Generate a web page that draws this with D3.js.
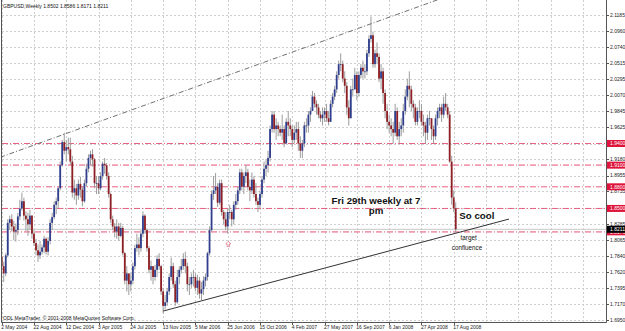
<!DOCTYPE html>
<html>
<head>
<meta charset="utf-8">
<script src="https://cdn.jsdelivr.net/npm/d3@7"></script>
<style>
  body { margin: 0; background: #fff; }
  svg { display: block; font-family: "Liberation Sans", Arial, sans-serif; }
</style>
</head>
<body>
<script>
// GBPUSD weekly, week of 2 May 2004 .. week of 24 Aug 2008
var opens = [1.7830,1.7700,1.7600,1.7850,1.8300,1.8350,1.8250,1.8180,1.8200,1.8390,1.8500,1.8600,1.8400,1.8350,1.8280,1.8400,1.8150,1.8020,1.7920,1.7850,
  1.7900,1.7960,1.8080,1.7900,1.8050,1.8300,1.8380,1.8550,1.8600,1.8780,1.9100,1.9420,1.9300,1.9350,1.9320,1.9150,1.8720,1.8780,1.8680,1.8840,
  1.8760,1.8600,1.8850,1.9050,1.9200,1.9250,1.9180,1.8850,1.8850,1.8780,1.8950,1.9120,1.9100,1.8950,1.8700,1.8350,1.8250,1.8180,1.8250,1.8120,
  1.8230,1.7880,1.7500,1.7600,1.7450,1.7500,1.7700,1.7950,1.8000,1.7950,1.8150,1.8400,1.8200,1.7950,1.7650,1.7700,1.7550,1.7650,1.7800,1.7700,
  1.7350,1.7150,1.7200,1.7350,1.7550,1.7700,1.7450,1.7200,1.7550,1.7650,1.7700,1.7800,1.7700,1.7450,1.7450,1.7550,1.7550,1.7400,1.7500,1.7320,
  1.7380,1.7500,1.7550,1.7880,1.8200,1.8700,1.8750,1.8800,1.8580,1.8850,1.8450,1.8350,1.8250,1.8450,1.8450,1.8350,1.8550,1.8600,1.8750,1.9000,
  1.8800,1.8950,1.9000,1.8800,1.8750,1.8900,1.8700,1.8600,1.8550,1.8700,1.8900,1.9050,1.9100,1.9200,1.9600,1.9800,1.9600,1.9650,1.9600,1.9550,
  1.9600,1.9400,1.9700,1.9650,1.9600,1.9450,1.9550,1.9600,1.9400,1.9300,1.9400,1.9650,1.9650,1.9800,1.9850,2.0050,1.9950,1.9900,1.9800,1.9750,
  1.9800,1.9850,1.9750,1.9700,1.9950,2.0050,2.0150,2.0350,2.0500,2.0500,2.0300,2.0200,1.9900,1.9750,2.0150,2.0150,2.0350,2.0100,2.0350,2.0450,
  2.0400,2.0400,2.0650,2.0850,2.0900,2.0500,2.0650,2.0600,2.0300,2.0400,2.0100,1.9850,1.9700,1.9650,1.9600,1.9550,1.9850,1.9500,1.9600,1.9650,
  1.9850,2.0050,2.0200,2.0150,1.9950,1.9900,1.9700,1.9850,1.9850,1.9700,1.9650,1.9550,1.9750,1.9750,1.9600,1.9500,1.9750,1.9850,1.9900,1.9800,
  1.9950,1.9900,1.9800,1.9150,1.8650,1.8502];
var highs = [1.7910,1.7760,1.7880,1.8350,1.8400,1.8420,1.8330,1.8290,1.8440,1.8620,1.8720,1.8650,1.8460,1.8440,1.8480,1.8410,1.8200,1.8080,1.8000,1.8050,
  1.8000,1.8120,1.8100,1.8100,1.8350,1.8440,1.8600,1.8650,1.8800,1.9150,1.9450,1.9550,1.9450,1.9480,1.9480,1.9230,1.8900,1.8840,1.8900,1.8940,
  1.8800,1.8900,1.9120,1.9250,1.9300,1.9320,1.9200,1.8950,1.8950,1.9000,1.9150,1.9200,1.9130,1.9000,1.8720,1.8400,1.8300,1.8350,1.8300,1.8300,
  1.8260,1.7900,1.7700,1.7600,1.7600,1.7750,1.8000,1.8150,1.8100,1.8200,1.8460,1.8420,1.8220,1.7980,1.7780,1.7700,1.7720,1.7850,1.7880,1.7720,
  1.7400,1.7300,1.7400,1.7600,1.7820,1.7750,1.7500,1.7650,1.7700,1.7800,1.7880,1.7900,1.7750,1.7550,1.7600,1.7650,1.7600,1.7580,1.7550,1.7480,
  1.7560,1.7600,1.7900,1.8250,1.8750,1.8950,1.8990,1.8850,1.8900,1.8900,1.8480,1.8450,1.8500,1.8550,1.8480,1.8600,1.8700,1.8800,1.9050,1.9050,
  1.9000,1.9100,1.9050,1.8900,1.9000,1.8950,1.8850,1.8650,1.8750,1.8950,1.9150,1.9180,1.9300,1.9650,1.9850,1.9850,1.9750,1.9700,1.9650,1.9800,
  1.9650,1.9750,1.9850,1.9750,1.9650,1.9650,1.9700,1.9700,1.9500,1.9450,1.9700,1.9750,1.9850,1.9900,2.0130,2.0100,2.0000,1.9950,1.9850,1.9900,
  1.9900,1.9950,1.9850,2.0000,2.0100,2.0200,2.0400,2.0550,2.0650,2.0550,2.0400,2.0250,2.0000,2.0200,2.0300,2.0450,2.0400,2.0400,2.0500,2.0550,
  2.0500,2.0700,2.0900,2.1161,2.0950,2.0700,2.0800,2.0650,2.0500,2.0450,2.0150,1.9950,1.9800,1.9750,1.9700,1.9950,1.9900,1.9700,1.9750,1.9950,
  2.0150,2.0300,2.0400,2.0200,2.0000,1.9950,1.9900,2.0000,1.9950,1.9800,1.9700,1.9800,1.9850,1.9750,1.9650,1.9800,1.9900,1.9950,1.9950,2.0050,
  2.0100,1.9950,1.9850,1.9230,1.8750,1.8586];
var lows = [1.7640,1.7480,1.7560,1.7820,1.8200,1.8180,1.8060,1.8040,1.8130,1.8340,1.8470,1.8330,1.8190,1.8120,1.8200,1.8080,1.7980,1.7850,1.7760,1.7800,
  1.7860,1.7880,1.7860,1.7850,1.8000,1.8200,1.8350,1.8420,1.8500,1.8750,1.9080,1.9250,1.9150,1.9250,1.9100,1.8650,1.8620,1.8550,1.8620,1.8650,
  1.8530,1.8580,1.8800,1.9000,1.9100,1.9080,1.8780,1.8700,1.8700,1.8750,1.8900,1.8980,1.8900,1.8650,1.8300,1.8200,1.8100,1.8080,1.8050,1.8100,
  1.7850,1.7450,1.7350,1.7300,1.7350,1.7450,1.7650,1.7900,1.7850,1.7900,1.8100,1.8150,1.7900,1.7600,1.7500,1.7450,1.7500,1.7550,1.7650,1.7300,
  1.7045,1.7100,1.7150,1.7300,1.7500,1.7400,1.7150,1.7180,1.7450,1.7600,1.7650,1.7600,1.7350,1.7300,1.7400,1.7420,1.7350,1.7300,1.7250,1.7230,
  1.7300,1.7420,1.7500,1.7850,1.8180,1.8620,1.8700,1.8520,1.8550,1.8400,1.8280,1.8200,1.8150,1.8350,1.8250,1.8280,1.8480,1.8550,1.8700,1.8750,
  1.8700,1.8850,1.8750,1.8600,1.8700,1.8650,1.8550,1.8450,1.8500,1.8650,1.8850,1.8950,1.9000,1.9150,1.9550,1.9550,1.9450,1.9500,1.9500,1.9450,
  1.9350,1.9400,1.9500,1.9500,1.9350,1.9400,1.9450,1.9300,1.9200,1.9200,1.9350,1.9550,1.9550,1.9700,1.9850,1.9900,1.9800,1.9750,1.9700,1.9650,
  1.9700,1.9700,1.9650,1.9700,1.9900,2.0000,2.0100,2.0300,2.0400,2.0250,2.0100,1.9800,1.9650,1.9750,2.0050,2.0150,2.0000,2.0050,2.0300,2.0300,
  2.0300,2.0350,2.0600,2.0800,2.0450,2.0450,2.0500,2.0250,2.0150,1.9950,1.9750,1.9600,1.9550,1.9500,1.9400,1.9500,1.9450,1.9400,1.9500,1.9550,
  1.9800,2.0000,1.9900,1.9850,1.9750,1.9650,1.9650,1.9750,1.9650,1.9500,1.9400,1.9450,1.9650,1.9450,1.9400,1.9450,1.9650,1.9750,1.9700,1.9750,
  1.9850,1.9750,1.9130,1.8550,1.8450,1.8171];
var closes = [1.7700,1.7600,1.7850,1.8300,1.8350,1.8250,1.8180,1.8200,1.8390,1.8500,1.8600,1.8400,1.8350,1.8280,1.8400,1.8150,1.8020,1.7920,1.7850,1.7900,
  1.7960,1.8080,1.7900,1.8050,1.8300,1.8380,1.8550,1.8600,1.8780,1.9100,1.9420,1.9300,1.9350,1.9320,1.9150,1.8720,1.8780,1.8680,1.8840,1.8760,
  1.8600,1.8850,1.9050,1.9200,1.9250,1.9180,1.8850,1.8850,1.8780,1.8950,1.9120,1.9100,1.8950,1.8700,1.8350,1.8250,1.8180,1.8250,1.8120,1.8230,
  1.7880,1.7500,1.7600,1.7450,1.7500,1.7700,1.7950,1.8000,1.7950,1.8150,1.8400,1.8200,1.7950,1.7650,1.7700,1.7550,1.7650,1.7800,1.7700,1.7350,
  1.7150,1.7200,1.7350,1.7550,1.7700,1.7450,1.7200,1.7550,1.7650,1.7700,1.7800,1.7700,1.7450,1.7450,1.7550,1.7550,1.7400,1.7500,1.7320,1.7380,
  1.7500,1.7550,1.7880,1.8200,1.8700,1.8750,1.8800,1.8580,1.8850,1.8450,1.8350,1.8250,1.8450,1.8450,1.8350,1.8550,1.8600,1.8750,1.9000,1.8800,
  1.8950,1.9000,1.8800,1.8750,1.8900,1.8700,1.8600,1.8550,1.8700,1.8900,1.9050,1.9100,1.9200,1.9600,1.9800,1.9600,1.9650,1.9600,1.9550,1.9600,
  1.9400,1.9700,1.9650,1.9600,1.9450,1.9550,1.9600,1.9400,1.9300,1.9400,1.9650,1.9650,1.9800,1.9850,2.0050,1.9950,1.9900,1.9800,1.9750,1.9800,
  1.9850,1.9750,1.9700,1.9950,2.0050,2.0150,2.0350,2.0500,2.0500,2.0300,2.0200,1.9900,1.9750,2.0150,2.0150,2.0350,2.0100,2.0350,2.0450,2.0400,
  2.0400,2.0650,2.0850,2.0900,2.0500,2.0650,2.0600,2.0300,2.0400,2.0100,1.9850,1.9700,1.9650,1.9600,1.9550,1.9850,1.9500,1.9600,1.9650,1.9850,
  2.0050,2.0200,2.0150,1.9950,1.9900,1.9700,1.9850,1.9850,1.9700,1.9650,1.9550,1.9750,1.9750,1.9600,1.9500,1.9750,1.9850,1.9900,1.9800,1.9950,
  1.9900,1.9800,1.9150,1.8650,1.8502,1.8211];

var dateLabels = ["2 May 2004","22 Aug 2004","12 Dec 2004","3 Apr 2005","24 Jul 2005","13 Nov 2005","5 Mar 2006",
  "25 Jun 2006","15 Oct 2006","4 Feb 2007","27 May 2007","16 Sep 2007","6 Jan 2008","27 Apr 2008","17 Aug 2008"];
var dateIdx = [0,16,32,48,64,80,96,112,128,144,160,176,192,208,224];
var gridIdx = [0,16,32,48,64,80,96,112,128,144,160,176,192,208,224,240,256,272,288];
var priceTicks = [2.1185,2.0960,2.0740,2.0515,2.0295,2.0070,1.9845,1.9625,1.9400,1.9180,1.8955,1.8735,1.8510,1.8285,1.8065,1.7840,1.7620,1.7395,1.7170,1.6950];
var levels = [1.9400, 1.9100, 1.8800, 1.8500, 1.8176];
var softLevels = [1.9100, 1.8176];
var bid = 1.8211;
// trendlines as [bar index, price] pairs
var upperTrend = [[0, 1.9217], [183, 2.1059]];
var lowerTrend = [[80, 1.7078], [251.4, 1.8353]];
var arrowMark = {i: 112.3, price: 1.8003};
var notes = [
  {text: "Fri 29th weekly at 7", i: 185.5, price: 1.8568, size: 9.7, bold: true, anchor: "middle"},
  {text: "pm", i: 185.5, price: 1.8423, size: 9.7, bold: true, anchor: "middle"},
  {text: "So cool", i: 226.8, price: 1.8347, size: 9.7, bold: true, anchor: "start"},
  {text: "target", i: 231.4, price: 1.8062, size: 6.3, bold: false, anchor: "middle"},
  {text: "confluence", i: 230.6, price: 1.7931, size: 6.3, bold: false, anchor: "middle"}
];

var W = 625, H = 331;
var pL = 2, pR = 606, pT = 0, pB = 322;

var svg = d3.select("body").append("svg").attr("width", W).attr("height", H);
svg.append("rect").attr("width", W).attr("height", H).attr("fill", "#fff");

var x = d3.scaleLinear().domain([0, 224]).range([1.7, 453.7]);
var y = d3.scaleLinear().domain([1.6950, 2.1185]).range([320.3, 14.7]);

svg.append("clipPath").attr("id", "plot")
  .append("rect").attr("x", pL).attr("y", pT).attr("width", pR - pL).attr("height", pB - pT);

var g = svg.append("g").attr("clip-path", "url(#plot)");

// grid
g.selectAll(".hg").data(priceTicks).enter().append("line")
  .attr("x1", pL).attr("x2", pR)
  .attr("y1", function(d){ return Math.round(y(d)) + 0.5; })
  .attr("y2", function(d){ return Math.round(y(d)) + 0.5; })
  .attr("stroke", "#cfcfcf").attr("stroke-dasharray", "2,2");
g.selectAll(".vg").data(gridIdx).enter().append("line")
  .attr("x1", function(d){ return Math.round(x(d)) + 0.5; })
  .attr("x2", function(d){ return Math.round(x(d)) + 0.5; })
  .attr("y1", pT).attr("y2", pB)
  .attr("stroke", "#cfcfcf").attr("stroke-dasharray", "2,2");

// bid line
g.append("line").attr("x1", pL).attr("x2", pR)
  .attr("y1", y(bid)).attr("y2", y(bid)).attr("stroke", "#c8c8c8");

// horizontal levels
g.selectAll(".lvl").data(levels).enter().append("line")
  .attr("x1", pL).attr("x2", pR)
  .attr("y1", function(d){ return y(d); }).attr("y2", function(d){ return y(d); })
  .attr("stroke", function(d){ return softLevels.indexOf(d) >= 0 ? "#ef8aa2" : "#e8476a"; })
  .attr("stroke-width", function(d){ return softLevels.indexOf(d) >= 0 ? 1.6 : 1; })
  .attr("stroke-dasharray", "6,2,1,2").attr("opacity", 0.85);

// candles
var bars = d3.range(closes.length).map(function(i){
  return {i: i, o: opens[i], h: highs[i], l: lows[i], c: closes[i]};
});
var cg = g.selectAll(".c").data(bars).enter().append("g");
cg.append("line")
  .attr("x1", function(d){ return x(d.i); }).attr("x2", function(d){ return x(d.i); })
  .attr("y1", function(d){ return y(d.h); }).attr("y2", function(d){ return y(d.l); })
  .attr("stroke", "#9c9c9c").attr("stroke-width", 1);
cg.append("rect")
  .attr("x", function(d){ return x(d.i) - 0.9; })
  .attr("width", 1.8)
  .attr("y", function(d){ return y(Math.max(d.o, d.c)); })
  .attr("height", function(d){ return Math.max(0.8, Math.abs(y(d.o) - y(d.c))); })
  .attr("fill", function(d){ return d.c >= d.o ? "#2f3f8e" : "#8e1f24"; });

// trendlines, upper is a ray to the edges
function trendY(t, i){
  var k = (t[1][1] - t[0][1]) / (t[1][0] - t[0][0]);
  return t[0][1] + (i - t[0][0]) * k;
}
var xl = x.invert(pL - 2), xr = x.invert(pR + 2);
g.append("line")
  .attr("x1", x(xl)).attr("y1", y(trendY(upperTrend, xl)))
  .attr("x2", x(xr)).attr("y2", y(trendY(upperTrend, xr)))
  .attr("stroke", "#707070").attr("stroke-dasharray", "5,2,1,2");
g.append("line")
  .attr("x1", x(lowerTrend[0][0])).attr("y1", y(lowerTrend[0][1]))
  .attr("x2", x(lowerTrend[1][0])).attr("y2", y(lowerTrend[1][1]))
  .attr("stroke", "#333");

// arrow marker
var ax = x(arrowMark.i), ay = y(arrowMark.price);
g.append("path")
  .attr("d", "M" + ax + "," + (ay - 3) + "l2.5,2.5h-1.3v2.8h-2.4v-2.8h-1.3z")
  .attr("fill", "none").attr("stroke", "#e87890").attr("stroke-width", 0.8);

// notes
g.selectAll(".note").data(notes).enter().append("text")
  .attr("x", function(d){ return x(d.i); })
  .attr("y", function(d){ return y(d.price); })
  .attr("text-anchor", function(d){ return d.anchor; })
  .attr("font-size", function(d){ return d.size; })
  .attr("font-weight", function(d){ return d.bold ? "bold" : "normal"; })
  .attr("fill", "#111")
  .text(function(d){ return d.text; });

// frame
svg.append("path")
  .attr("d", "M" + (pL - 0.5) + "," + pT + "V" + (pB + 0.5) + "H" + (pR + 0.5) + "V" + pT)
  .attr("fill", "none").attr("stroke", "#555");

// price axis
var pa = svg.append("g");
pa.selectAll(".pt").data(priceTicks).enter().append("line")
  .attr("x1", pR).attr("x2", pR + 3)
  .attr("y1", function(d){ return Math.round(y(d)) + 0.5; })
  .attr("y2", function(d){ return Math.round(y(d)) + 0.5; })
  .attr("stroke", "#555");
pa.selectAll(".pl").data(priceTicks).enter().append("text")
  .attr("x", pR + 4).attr("y", function(d){ return y(d) + 1.8; })
  .attr("font-size", 5).attr("fill", "#222")
  .text(function(d){ return d.toFixed(4); });

var tags = levels.map(function(v){ return {v: v, fill: "#e0153c"}; });
tags.push({v: bid, fill: "#000"});
var tg = pa.selectAll(".tag").data(tags).enter().append("g");
tg.append("rect")
  .attr("x", pR + 1).attr("width", 19)
  .attr("y", function(d){ return y(d.v) - 3.5; }).attr("height", 7)
  .attr("fill", function(d){ return d.fill; });
tg.append("text")
  .attr("x", pR + 4).attr("y", function(d){ return y(d.v) + 1.8; })
  .attr("font-size", 5).attr("fill", "#fff")
  .text(function(d){ return d.v.toFixed(4); });

// date axis
svg.selectAll(".dl").data(dateIdx).enter().append("text")
  .attr("x", function(d){ return x(d) - 0.5; }).attr("y", 328.5)
  .attr("font-size", 5).attr("fill", "#222")
  .text(function(d, k){ return dateLabels[k]; });
svg.selectAll(".dt").data(dateIdx).enter().append("line")
  .attr("x1", function(d){ return Math.round(x(d)) + 0.5; })
  .attr("x2", function(d){ return Math.round(x(d)) + 0.5; })
  .attr("y1", pB).attr("y2", pB + 3).attr("stroke", "#555");

// title and copyright
svg.append("text").attr("x", 3).attr("y", 7.5).attr("font-size", 5).attr("fill", "#111")
  .text("GBPUSD,Weekly  1.8502 1.8586 1.8171 1.8211");
svg.append("text").attr("x", 3).attr("y", 319.5).attr("font-size", 5).attr("fill", "#111")
  .text("ODL MetaTrader, \u00a9 2001-2008 MetaQuotes Software Corp.");
</script>
</body>
</html>
